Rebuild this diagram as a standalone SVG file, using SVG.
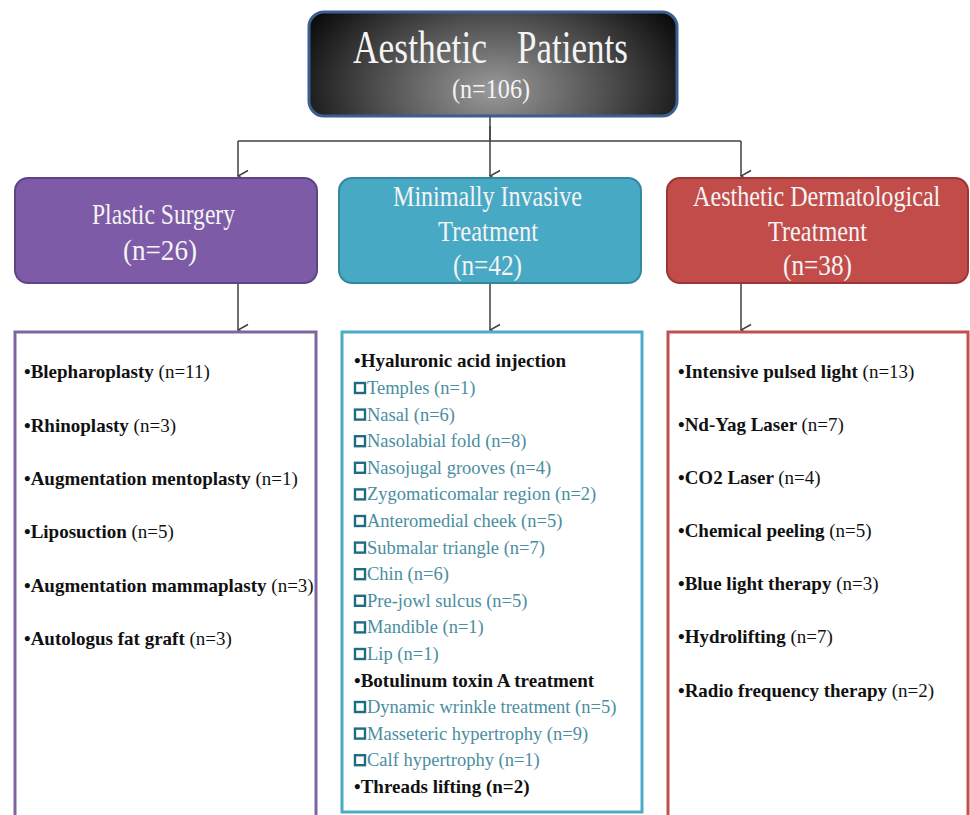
<svg xmlns="http://www.w3.org/2000/svg" width="970" height="815" viewBox="0 0 970 815">
<defs>
  <radialGradient id="topGrad" cx="0.5" cy="0.75" r="0.6" gradientTransform="translate(0.5 0.75) scale(1 2.2) translate(-0.5 -0.75)">
    <stop offset="0" stop-color="#9a9a9a"/>
    <stop offset="0.55" stop-color="#4a4a4a"/>
    <stop offset="1" stop-color="#050505"/>
  </radialGradient>
  <marker id="arr" viewBox="0 0 14 14" refX="7" refY="13" markerWidth="14" markerHeight="14" markerUnits="userSpaceOnUse" orient="auto-start-reverse">
    <path d="M1.5,3 L7,13 L12.5,3" fill="none" stroke="#404040" stroke-width="1.5"/>
  </marker>
</defs>
<style>
  .hdr { font-family: "Liberation Serif", "Times New Roman", serif; fill: #f4f4f4; }
  .b { font-family: "Liberation Serif", "Times New Roman", serif; font-weight: bold; font-size: 19px; fill: #111; }
  .n { font-weight: normal; }
  .sub { font-family: "Liberation Serif", "Times New Roman", serif; font-size: 18.5px; fill: #4a8ea0; }
  .sq { fill: none; stroke: #1f6d80; stroke-width: 2.4; }
  .conn { stroke: #404040; stroke-width: 1.5; fill: none; }
</style>

<rect width="970" height="815" fill="#ffffff"/>

<g id="connectors">
  <path class="conn" d="M490,117 V141"/>
  <path class="conn" d="M238,141 H741"/>
  <path class="conn" d="M238,141 V176" marker-end="url(#arr)"/>
  <path class="conn" d="M490,126 V176" marker-end="url(#arr)"/>
  <path class="conn" d="M741,141 V176" marker-end="url(#arr)"/>
  <path class="conn" d="M238,284 V330" marker-end="url(#arr)"/>
  <path class="conn" d="M490,284 V330" marker-end="url(#arr)"/>
  <path class="conn" d="M741,284 V330" marker-end="url(#arr)"/>
</g>

<g id="node-aesthetic-patients">
  <rect x="309" y="12" width="368" height="104" rx="15" fill="url(#topGrad)" stroke="#3d5d8e" stroke-width="3"/>
  <text class="hdr" x="353" y="63" font-size="46" textLength="134" lengthAdjust="spacingAndGlyphs">Aesthetic</text>
  <text class="hdr" x="517" y="63" font-size="46" textLength="111" lengthAdjust="spacingAndGlyphs">Patients</text>
  <text class="hdr" x="452" y="98" font-size="28" textLength="78" lengthAdjust="spacingAndGlyphs">(n=106)</text>
</g>

<g id="node-plastic-surgery">
  <rect x="15" y="178" width="302" height="105" rx="13" fill="#7d5ba6" stroke="#5f4485" stroke-width="2"/>
  <text class="hdr" x="92" y="224" font-size="30" textLength="143" lengthAdjust="spacingAndGlyphs">Plastic Surgery</text>
  <text class="hdr" x="123" y="260" font-size="30" textLength="74" lengthAdjust="spacingAndGlyphs">(n=26)</text>
</g>

<g id="node-minimally-invasive">
  <rect x="339" y="178" width="302" height="105" rx="13" fill="#48a9c5" stroke="#34879f" stroke-width="2"/>
  <text class="hdr" x="393" y="206" font-size="30" textLength="189" lengthAdjust="spacingAndGlyphs">Minimally Invasive</text>
  <text class="hdr" x="438" y="241" font-size="30" textLength="100" lengthAdjust="spacingAndGlyphs">Treatment</text>
  <text class="hdr" x="453" y="275" font-size="30" textLength="69" lengthAdjust="spacingAndGlyphs">(n=42)</text>
</g>

<g id="node-dermatological">
  <rect x="667" y="178" width="301" height="105" rx="13" fill="#c24c4a" stroke="#9c3634" stroke-width="2"/>
  <text class="hdr" x="0" y="0" font-size="30" transform="translate(693 206) scale(0.805 1)">Aesthetic Dermatological</text>
  <text class="hdr" x="768" y="241" font-size="30" textLength="99" lengthAdjust="spacingAndGlyphs">Treatment</text>
  <text class="hdr" x="783" y="275" font-size="30" textLength="69" lengthAdjust="spacingAndGlyphs">(n=38)</text>
</g>

<g id="node-plastic-list">
  <rect x="15" y="332" width="301" height="500" fill="#ffffff" stroke="#8064a2" stroke-width="3"/>
  <text class="b" x="24" y="378">•Blepharoplasty <tspan class="n">(n=11)</tspan></text>
  <text class="b" x="24" y="432">•Rhinoplasty <tspan class="n">(n=3)</tspan></text>
  <text class="b" x="24" y="485">•Augmentation mentoplasty <tspan class="n">(n=1)</tspan></text>
  <text class="b" x="24" y="538">•Liposuction <tspan class="n">(n=5)</tspan></text>
  <text class="b" x="24" y="592">•Augmentation mammaplasty <tspan class="n">(n=3)</tspan></text>
  <text class="b" x="24" y="645">•Autologus fat graft <tspan class="n">(n=3)</tspan></text>
</g>

<g id="node-minimally-list">
  <rect x="342" y="332" width="300" height="480" fill="#ffffff" stroke="#4bacc6" stroke-width="3"/>
  <text class="b" x="354" y="367" font-size="18">•Hyaluronic acid injection</text>
  <rect class="sq" x="355" y="383" width="10" height="10"/><text class="sub" x="367" y="394">Temples (n=1)</text>
  <rect class="sq" x="355" y="409.6" width="10" height="10"/><text class="sub" x="367" y="420.6">Nasal (n=6)</text>
  <rect class="sq" x="355" y="436.2" width="10" height="10"/><text class="sub" x="367" y="447.2">Nasolabial fold (n=8)</text>
  <rect class="sq" x="355" y="462.8" width="10" height="10"/><text class="sub" x="367" y="473.8">Nasojugal grooves (n=4)</text>
  <rect class="sq" x="355" y="489.4" width="10" height="10"/><text class="sub" x="367" y="500.4">Zygomaticomalar region (n=2)</text>
  <rect class="sq" x="355" y="516" width="10" height="10"/><text class="sub" x="367" y="527">Anteromedial cheek (n=5)</text>
  <rect class="sq" x="355" y="542.6" width="10" height="10"/><text class="sub" x="367" y="553.6">Submalar triangle (n=7)</text>
  <rect class="sq" x="355" y="569.2" width="10" height="10"/><text class="sub" x="367" y="580.2">Chin (n=6)</text>
  <rect class="sq" x="355" y="595.8" width="10" height="10"/><text class="sub" x="367" y="606.8">Pre-jowl sulcus (n=5)</text>
  <rect class="sq" x="355" y="622.4" width="10" height="10"/><text class="sub" x="367" y="633.4">Mandible (n=1)</text>
  <rect class="sq" x="355" y="649" width="10" height="10"/><text class="sub" x="367" y="660">Lip (n=1)</text>
  <text class="b" x="354" y="686.5" font-size="18">•Botulinum toxin A treatment</text>
  <rect class="sq" x="355" y="702" width="10" height="10"/><text class="sub" x="367" y="713">Dynamic wrinkle treatment (n=5)</text>
  <rect class="sq" x="355" y="728.6" width="10" height="10"/><text class="sub" x="367" y="739.6">Masseteric hypertrophy (n=9)</text>
  <rect class="sq" x="355" y="755.2" width="10" height="10"/><text class="sub" x="367" y="766.2">Calf hypertrophy (n=1)</text>
  <text class="b" x="354" y="793" font-size="18">•Threads lifting (n=2)</text>
</g>

<g id="node-dermatological-list">
  <rect x="668" y="332" width="300" height="500" fill="#ffffff" stroke="#c0504d" stroke-width="3"/>
  <text class="b" x="678" y="378">•Intensive pulsed light <tspan class="n">(n=13)</tspan></text>
  <text class="b" x="678" y="431">•Nd-Yag Laser <tspan class="n">(n=7)</tspan></text>
  <text class="b" x="678" y="484">•CO2 Laser <tspan class="n">(n=4)</tspan></text>
  <text class="b" x="678" y="537">•Chemical peeling <tspan class="n">(n=5)</tspan></text>
  <text class="b" x="678" y="590">•Blue light therapy <tspan class="n">(n=3)</tspan></text>
  <text class="b" x="678" y="643">•Hydrolifting <tspan class="n">(n=7)</tspan></text>
  <text class="b" x="678" y="697">•Radio frequency therapy <tspan class="n">(n=2)</tspan></text>
</g>
</svg>
